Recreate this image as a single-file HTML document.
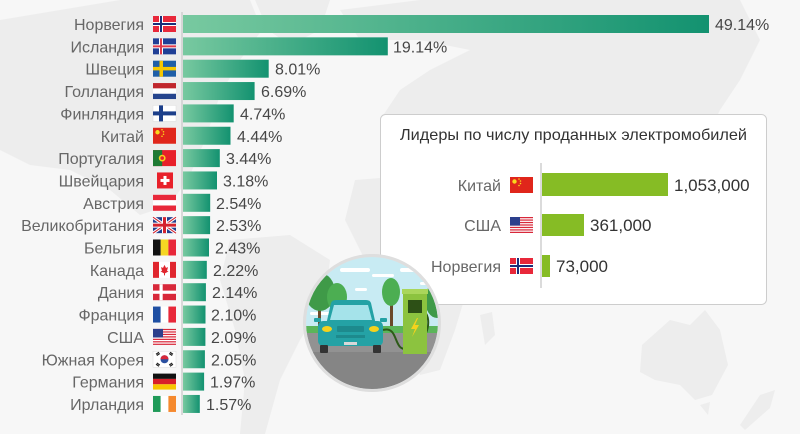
<!DOCTYPE html>
<html><head><meta charset="utf-8"><style>
html,body{margin:0;padding:0;background:#f7f7f7;}
svg{display:block;}
text{font-family:"Liberation Sans",sans-serif;}
</style></head><body>
<svg width="800" height="434" viewBox="0 0 800 434" xmlns="http://www.w3.org/2000/svg">
<defs>
<linearGradient id="g" x1="0" y1="0" x2="1" y2="0">
<stop offset="0" stop-color="#78c9a0"/><stop offset="1" stop-color="#139270"/>
</linearGradient>
<clipPath id="cc"><circle cx="372" cy="323" r="66"/></clipPath>
</defs>
<rect width="800" height="434" fill="#f7f7f7"/>
<!-- map -->
<g fill="#ededed">
<path d="M0,20 L60,10 L120,0 L250,0 L262,30 L240,60 L220,95 L205,140 L190,175 L170,205 L140,215 L110,190 L70,170 L30,165 L0,150 Z"/>
<path d="M255,0 L330,0 L320,30 L290,45 L268,30 Z"/>
<path d="M340,10 L420,0 L740,0 L760,40 L740,80 L720,110 L700,150 L680,190 L640,215 L600,220 L560,200 L520,210 L490,190 L450,180 L420,170 L395,150 L380,120 L400,90 L430,70 L470,50 L420,40 L360,40 Z"/>
<path d="M355,180 L420,175 L455,200 L475,230 L470,280 L455,330 L440,370 L420,375 L405,330 L395,280 L365,260 L345,220 Z"/>
<path d="M480,315 L492,312 L495,335 L485,345 Z"/>
<path d="M230,240 L290,235 L330,260 L325,300 L300,340 L280,380 L265,434 L240,434 L245,380 L235,330 L220,280 Z"/>
<path d="M642,345 L670,320 L690,325 L705,310 L720,330 L728,365 L712,395 L695,400 L680,385 L655,380 L640,372 Z"/>
<path d="M700,405 L710,402 L708,415 Z"/>
<path d="M760,395 L775,390 L770,408 L745,430 L740,425 Z"/>
</g>
<!-- main axis -->
<line x1="182" y1="12" x2="182" y2="415" stroke="#cfcfcf" stroke-width="1.5"/>
<!-- bars -->
<g fill="url(#g)">
<rect x="183" y="15" width="526" height="18"/>
<rect x="183" y="37.35" width="204.8" height="18"/>
<rect x="183" y="59.7" width="85.7" height="18"/>
<rect x="183" y="82.05" width="71.6" height="18"/>
<rect x="183" y="104.4" width="50.7" height="18"/>
<rect x="183" y="126.75" width="47.5" height="18"/>
<rect x="183" y="149.1" width="36.8" height="18"/>
<rect x="183" y="171.45" width="34" height="18"/>
<rect x="183" y="193.8" width="27.2" height="18"/>
<rect x="183" y="216.15" width="27.1" height="18"/>
<rect x="183" y="238.5" width="26" height="18"/>
<rect x="183" y="260.85" width="23.8" height="18"/>
<rect x="183" y="283.2" width="22.9" height="18"/>
<rect x="183" y="305.55" width="22.5" height="18"/>
<rect x="183" y="327.9" width="22.4" height="18"/>
<rect x="183" y="350.25" width="21.9" height="18"/>
<rect x="183" y="372.6" width="21.1" height="18"/>
<rect x="183" y="394.95" width="16.8" height="18"/>
</g>
<!-- country labels -->
<g font-size="16" fill="#676767" text-anchor="end">
<text x="144" y="30">Норвегия</text>
<text x="144" y="52.35">Исландия</text>
<text x="144" y="74.7">Швеция</text>
<text x="144" y="97.05">Голландия</text>
<text x="144" y="119.4">Финляндия</text>
<text x="144" y="141.75">Китай</text>
<text x="144" y="164.1">Португалия</text>
<text x="144" y="186.45">Швейцария</text>
<text x="144" y="208.8">Австрия</text>
<text x="144" y="231.15">Великобритания</text>
<text x="144" y="253.5">Бельгия</text>
<text x="144" y="275.85">Канада</text>
<text x="144" y="298.2">Дания</text>
<text x="144" y="320.55">Франция</text>
<text x="144" y="342.9">США</text>
<text x="144" y="365.25">Южная Корея</text>
<text x="144" y="387.6">Германия</text>
<text x="144" y="409.95">Ирландия</text>
</g>
<!-- values -->
<g font-size="16" fill="#474747">
<text x="715" y="30">49.14%</text>
<text x="393" y="52.35">19.14%</text>
<text x="275" y="74.7">8.01%</text>
<text x="261" y="97.05">6.69%</text>
<text x="240" y="119.4">4.74%</text>
<text x="237" y="141.75">4.44%</text>
<text x="226" y="164.1">3.44%</text>
<text x="223" y="186.45">3.18%</text>
<text x="216" y="208.8">2.54%</text>
<text x="216" y="231.15">2.53%</text>
<text x="215" y="253.5">2.43%</text>
<text x="213" y="275.85">2.22%</text>
<text x="212" y="298.2">2.14%</text>
<text x="211" y="320.55">2.10%</text>
<text x="211" y="342.9">2.09%</text>
<text x="211" y="365.25">2.05%</text>
<text x="210" y="387.6">1.97%</text>
<text x="206" y="409.95">1.57%</text>
</g>
<!-- flags -->
<g>
<g transform="translate(153,16)"><rect width="23" height="16" fill="#e8283a"/><rect x="6" width="4" height="16" fill="#fff"/><rect y="6" width="23" height="4" fill="#fff"/><rect x="7" width="2" height="16" fill="#1a2f7a"/><rect y="7" width="23" height="2" fill="#1a2f7a"/></g>
<g transform="translate(153,38.35)"><rect width="23" height="16" fill="#1f3f96"/><rect x="6" width="4" height="16" fill="#fff"/><rect y="6" width="23" height="4" fill="#fff"/><rect x="7" width="2" height="16" fill="#e03a4a"/><rect y="7" width="23" height="2" fill="#e03a4a"/></g>
<g transform="translate(153,60.7)"><rect width="23" height="16" fill="#1f5fa8"/><rect x="6.5" width="3.5" height="16" fill="#f6c800"/><rect y="6.2" width="23" height="3.5" fill="#f6c800"/></g>
<g transform="translate(153,83.05)"><rect width="23" height="16" fill="#fff"/><rect width="23" height="5.3" fill="#c0272d"/><rect y="10.7" width="23" height="5.3" fill="#26458e"/></g>
<g transform="translate(153,105.4)"><rect width="23" height="16" fill="#fff" stroke="#ddd" stroke-width=".5"/><rect x="6" width="4" height="16" fill="#1c3f8a"/><rect y="6" width="23" height="4" fill="#1c3f8a"/></g>
<g transform="translate(153,127.75)"><rect width="23" height="16" fill="#e0261b"/><circle cx="4.5" cy="4.5" r="2.2" fill="#f9d71c"/><circle cx="9" cy="2" r=".8" fill="#f9d71c"/><circle cx="10.5" cy="4" r=".8" fill="#f9d71c"/><circle cx="10.5" cy="6.5" r=".8" fill="#f9d71c"/><circle cx="9" cy="8.5" r=".8" fill="#f9d71c"/></g>
<g transform="translate(153,150.1)"><rect width="23" height="16" fill="#e8202a"/><rect width="9.2" height="16" fill="#1e7a33"/><circle cx="9.2" cy="8" r="3.4" fill="#f6d21c"/><circle cx="9.2" cy="8" r="1.8" fill="#e8202a"/></g>
<g transform="translate(153,172.45)"><rect x="4" width="16" height="16" fill="#e8202a"/><rect x="10.5" y="3.5" width="3" height="9" fill="#fff"/><rect x="7.5" y="6.5" width="9" height="3" fill="#fff"/></g>
<g transform="translate(153,194.8)"><rect width="23" height="16" fill="#e8283a"/><rect y="5.3" width="23" height="5.4" fill="#fff"/></g>
<g transform="translate(153,217.15)"><rect width="23" height="16" fill="#233f8f"/><path d="M0,0 L23,16 M23,0 L0,16" stroke="#fff" stroke-width="3.2"/><path d="M0,0 L23,16 M23,0 L0,16" stroke="#d4232e" stroke-width="1.1"/><rect x="9" width="5" height="16" fill="#fff"/><rect y="5.5" width="23" height="5" fill="#fff"/><rect x="10" width="3" height="16" fill="#d4232e"/><rect y="6.5" width="23" height="3" fill="#d4232e"/></g>
<g transform="translate(153,239.5)"><rect width="7.7" height="16" fill="#111"/><rect x="7.7" width="7.7" height="16" fill="#f5d623"/><rect x="15.4" width="7.6" height="16" fill="#e8283a"/></g>
<g transform="translate(153,261.85)"><rect width="23" height="16" fill="#fff"/><rect width="6" height="16" fill="#e0262e"/><rect x="17" width="6" height="16" fill="#e0262e"/><path d="M11.5,3 L13,6 L15,5.3 L14,9 L15.5,9.5 L12,11.5 L12,13.5 L11,13.5 L11,11.5 L7.5,9.5 L9,9 L8,5.3 L10,6 Z" fill="#e0262e"/></g>
<g transform="translate(153,284.2)"><rect width="23" height="16" fill="#d8283a"/><rect x="6.5" width="3.2" height="16" fill="#fff"/><rect y="6.4" width="23" height="3.2" fill="#fff"/></g>
<g transform="translate(153,306.55)"><rect width="7.7" height="16" fill="#1f4fa3"/><rect x="7.7" width="7.7" height="16" fill="#fff"/><rect x="15.4" width="7.6" height="16" fill="#e8283a"/></g>
<g transform="translate(153,328.9)"><rect width="23" height="16" fill="#fff"/><g fill="#d8283a"><rect y="0" width="23" height="1.23"/><rect y="2.46" width="23" height="1.23"/><rect y="4.92" width="23" height="1.23"/><rect y="7.38" width="23" height="1.23"/><rect y="9.84" width="23" height="1.23"/><rect y="12.3" width="23" height="1.23"/><rect y="14.77" width="23" height="1.23"/></g><rect width="10" height="8.6" fill="#2c3f8c"/></g>
<g transform="translate(153,351.25)"><rect width="23" height="16" fill="#fff" stroke="#ddd" stroke-width=".5"/><circle cx="11.5" cy="8" r="4" fill="#2a4fa0"/><path d="M7.5,8 A4,4 0 0 1 15.5,8 Z" fill="#d8283a"/><g stroke="#222" stroke-width="1.2"><path d="M3,3 L6,1 M3.8,4.2 L6.8,2.2 M17,1 L20,3 M16.2,2.2 L19.2,4.2 M3,13 L6,15 M3.8,11.8 L6.8,13.8 M17,15 L20,13 M16.2,13.8 L19.2,11.8"/></g></g>
<g transform="translate(153,373.6)"><rect width="23" height="5.3" fill="#111"/><rect y="5.3" width="23" height="5.4" fill="#d8202a"/><rect y="10.7" width="23" height="5.3" fill="#f7c600"/></g>
<g transform="translate(153,395.95)"><rect width="7.7" height="16" fill="#1f9a58"/><rect x="7.7" width="7.7" height="16" fill="#fff"/><rect x="15.4" width="7.6" height="16" fill="#f5892e"/></g>
</g>

<!-- inset box -->
<rect x="380.5" y="114.5" width="386" height="190" rx="5" fill="#fff" stroke="#cdcdcd"/>
<text x="400" y="140" font-size="16" fill="#333" textLength="347" lengthAdjust="spacingAndGlyphs">Лидеры по числу проданных электромобилей</text>
<line x1="541" y1="163" x2="541" y2="288" stroke="#cfcfcf" stroke-width="1.5"/>
<g fill="#86bc25">
<rect x="542" y="173" width="126" height="23"/>
<rect x="542" y="214" width="42" height="22"/>
<rect x="542" y="255" width="8" height="22"/>
</g>
<g font-size="16" fill="#676767" text-anchor="end">
<text x="501" y="191">Китай</text>
<text x="501" y="231">США</text>
<text x="501" y="272">Норвегия</text>
</g>
<g font-size="17" fill="#333">
<text x="674" y="191">1,053,000</text>
<text x="590" y="231">361,000</text>
<text x="556" y="272">73,000</text>
</g>
<g transform="translate(510,177)"><rect width="23" height="16" fill="#e0261b"/><circle cx="4.5" cy="4.5" r="2.2" fill="#f9d71c"/><circle cx="9" cy="2" r=".8" fill="#f9d71c"/><circle cx="10.5" cy="4" r=".8" fill="#f9d71c"/><circle cx="10.5" cy="6.5" r=".8" fill="#f9d71c"/><circle cx="9" cy="8.5" r=".8" fill="#f9d71c"/></g>
<g transform="translate(510,217)"><rect width="23" height="16" fill="#fff"/><g fill="#d8283a"><rect y="0" width="23" height="1.23"/><rect y="2.46" width="23" height="1.23"/><rect y="4.92" width="23" height="1.23"/><rect y="7.38" width="23" height="1.23"/><rect y="9.84" width="23" height="1.23"/><rect y="12.3" width="23" height="1.23"/><rect y="14.77" width="23" height="1.23"/></g><rect width="10" height="8.6" fill="#2c3f8c"/></g>
<g transform="translate(510,258)"><rect width="23" height="16" fill="#e8283a"/><rect x="6" width="4" height="16" fill="#fff"/><rect y="6" width="23" height="4" fill="#fff"/><rect x="7" width="2" height="16" fill="#1a2f7a"/><rect y="7" width="23" height="2" fill="#1a2f7a"/></g>

<!-- illustration -->
<circle cx="372" cy="323" r="69" fill="#e3e3e3"/>
<g clip-path="url(#cc)">
<rect x="300" y="250" width="150" height="150" fill="#c8ebf3"/>
<g fill="#fff">
<rect x="340" y="268" width="30" height="4" rx="2"/>
<rect x="372" y="274" width="22" height="3" rx="1.5"/>
<rect x="400" y="268" width="20" height="4" rx="2"/>
<rect x="355" y="288" width="12" height="3" rx="1.5"/>
<rect x="420" y="282" width="18" height="3" rx="1.5"/>
<rect x="310" y="312" width="25" height="3" rx="1.5"/>
</g>
<rect x="318" y="300" width="3" height="28" fill="#6b4a2b"/>
<rect x="336" y="300" width="3" height="28" fill="#6b4a2b"/>
<rect x="390" y="300" width="3" height="28" fill="#6b4a2b"/>
<ellipse cx="320" cy="292" rx="15" ry="19" fill="#3f9a48"/>
<ellipse cx="337" cy="297" rx="10" ry="14" fill="#4cae52"/>
<ellipse cx="391" cy="292" rx="9" ry="14" fill="#4cae52"/>
<ellipse cx="437" cy="300" rx="12" ry="18" fill="#3f9a48"/>
<rect x="300" y="326" width="150" height="7" fill="#5bb55a"/>
<rect x="300" y="333" width="150" height="70" fill="#929292"/>
<rect x="300" y="352" width="150" height="50" fill="#858585"/>
<path d="M383,330 C400,325 392,355 410,348 C428,342 432,320 425,312" fill="none" stroke="#2d5a18" stroke-width="2"/>
<rect x="403" y="292" width="24" height="62" fill="#8cc33f"/>
<rect x="402" y="289" width="26" height="5" fill="#a9d65b"/>
<rect x="408" y="300" width="14" height="13" fill="#2d5016"/>
<path d="M417,318 L411,329 L415,329 L412,337 L419,325 L415,325 L418,318 Z" fill="#f5d21c"/>
<path d="M326,325 L331,303 Q332,300 336,300 L366,300 Q370,300 371,303 L376,325 Z" fill="#24a2a5"/>
<path d="M330,320 L334,305 L368,305 L372,320 Z" fill="#a5e3ea"/>
<rect x="318" y="321" width="65" height="25" rx="5" fill="#24a2a5"/>
<rect x="314" y="318" width="7" height="4" rx="1" fill="#24a2a5"/>
<rect x="380" y="318" width="7" height="4" rx="1" fill="#24a2a5"/>
<ellipse cx="327" cy="329" rx="5" ry="3" fill="#f5d21c"/>
<ellipse cx="374" cy="329" rx="5" ry="3" fill="#f5d21c"/>
<rect x="337" y="326" width="27" height="6" rx="1" fill="#1d8a8d"/>
<rect x="336" y="335" width="29" height="3" fill="#1d8a8d"/>
<rect x="344" y="342" width="13" height="3" fill="#d8d8d8"/>
<rect x="320" y="345" width="8" height="8" rx="1" fill="#333"/>
<rect x="373" y="345" width="8" height="8" rx="1" fill="#333"/>
</g>
<circle cx="372" cy="323" r="67.5" fill="none" stroke="#dedede" stroke-width="3"/>
</svg>
</body></html>
